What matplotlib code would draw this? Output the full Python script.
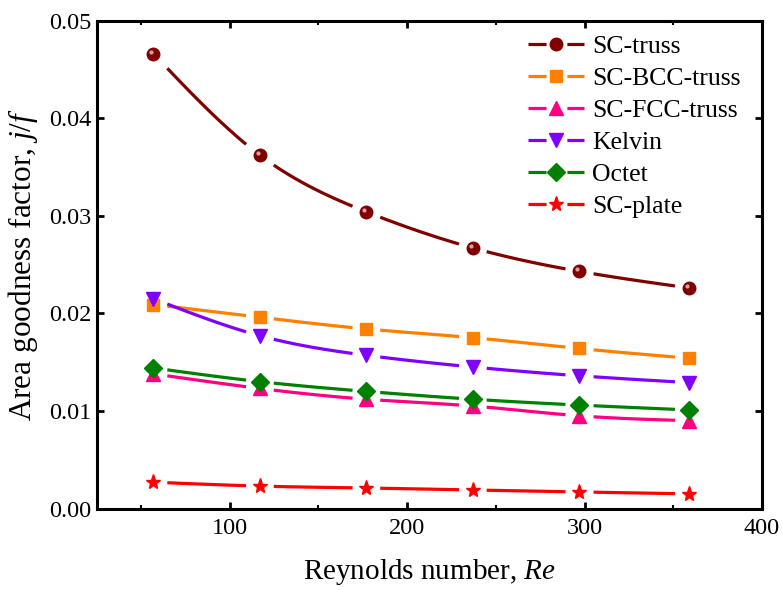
import numpy as np
import matplotlib
matplotlib.use("Agg")
import matplotlib.pyplot as plt
import matplotlib.transforms as mtransforms
from matplotlib.lines import Line2D
from matplotlib.ticker import MultipleLocator, FormatStrFormatter

plt.rcParams['font.family'] = ['Liberation Serif', 'DejaVu Serif']
plt.rcParams['mathtext.fontset'] = 'custom'
plt.rcParams['mathtext.rm'] = 'Liberation Serif'
plt.rcParams['mathtext.it'] = 'Liberation Serif:italic'
plt.rcParams['lines.scale_dashes'] = False

# ---- data ----
re = [57, 117, 177, 237, 297, 359]
sc_truss = [0.0466, 0.0362, 0.0304, 0.0267, 0.0243, 0.0226]
sc_bcc = [0.0209, 0.0196, 0.0184, 0.0175, 0.0164, 0.0154]
sc_fcc = [0.0138, 0.0123, 0.0112, 0.0105, 0.0095, 0.0090]
kelvin = [0.0215, 0.0177, 0.0157, 0.0145, 0.0136, 0.0129]
octet = [0.0144, 0.0130, 0.0120, 0.0112, 0.0106, 0.0101]
sc_plate = [0.0027, 0.0023, 0.0021, 0.0019, 0.0017, 0.0015]

labels = ['SC-truss', 'SC-BCC-truss', 'SC-FCC-truss', 'Kelvin', 'Octet', 'SC-plate']
series = [sc_truss, sc_bcc, sc_fcc, kelvin, octet, sc_plate]
colors = ['#800000', '#FF8000', '#FF0080', '#8000FF', '#008000', '#FF0000']
markers = ['o', 's', '^', 'v', 'D', '*']
msizes = [9, 9, 10, 10, 9, 11]


def smooth_segments(x, y, gap=0.13, n=40):
    """Natural cubic spline through the points, drawn per interval with gaps near markers."""
    x = np.asarray(x, float)
    y = np.asarray(y, float)
    N = len(x)
    h = np.diff(x)
    A = np.zeros((N, N))
    b = np.zeros(N)
    A[0, 0] = 1
    A[-1, -1] = 1
    for i in range(1, N - 1):
        A[i, i - 1] = h[i - 1]
        A[i, i] = 2 * (h[i - 1] + h[i])
        A[i, i + 1] = h[i]
        b[i] = 6 * ((y[i + 1] - y[i]) / h[i] - (y[i] - y[i - 1]) / h[i - 1])
    M = np.linalg.solve(A, b)
    segs = []
    for i in range(N - 1):
        t = np.linspace(gap, 1 - gap, n)
        xx = x[i] + t * h[i]
        a = x[i + 1] - xx
        c = xx - x[i]
        yy = (M[i] * a**3 / (6 * h[i]) + M[i + 1] * c**3 / (6 * h[i])
              + (y[i] / h[i] - M[i] * h[i] / 6) * a
              + (y[i + 1] / h[i] - M[i + 1] * h[i] / 6) * c)
        segs.append((xx, yy))
    return segs


fig = plt.figure(figsize=(7.83, 5.90), dpi=100)
ax = fig.add_axes([0.1235, 0.1381, 0.8497, 0.8271])

handles = []
for ys, c, mk, ms, lab in zip(series, colors, markers, msizes, labels):
    for xx, yy in smooth_segments(re, ys):
        ax.plot(xx, yy, color=c, lw=2.3, solid_capstyle='butt', zorder=2)
    ax.plot(re, ys, linestyle='none', marker=mk, ms=ms, color=c, mec=c, zorder=3)
    handles.append(Line2D([], [], color=c, lw=2.3, marker=mk, ms=ms, mec=c,
                          dashes=(13, 15), dash_capstyle='butt'))

# glossy highlight on the ball markers
hl = mtransforms.offset_copy(ax.transData, fig=fig, x=-1.5, y=1.5, units='points')
ax.plot(re, sc_truss, linestyle='none', marker='o', ms=3, color='#d9a0a0',
        mec='none', transform=hl, zorder=4)

ax.set_xlim(25, 400)
ax.set_ylim(0, 0.05)
ax.xaxis.set_major_locator(MultipleLocator(100))
ax.xaxis.set_minor_locator(MultipleLocator(50))
ax.yaxis.set_major_locator(MultipleLocator(0.01))
ax.yaxis.set_major_formatter(FormatStrFormatter('%.2f'))
ax.tick_params(which='both', direction='in', top=True, right=True, labelsize=17.5)
ax.tick_params(which='major', length=5, width=2)
ax.tick_params(which='minor', length=3, width=1.5)
ax.tick_params(axis='x', pad=7)
ax.tick_params(axis='y', pad=4)
for sp in ax.spines.values():
    sp.set_linewidth(2.2)

ax.set_xlabel('Reynolds number, $Re$', fontsize=21, labelpad=13)
ax.set_ylabel('Area goodness factor, $j/f$', fontsize=22.5, labelpad=6)

leg = ax.legend(handles, labels, loc='upper left', frameon=False, fontsize=18.5,
                handlelength=2.2, handletextpad=0.3, labelspacing=0.35,
                borderpad=0, borderaxespad=0, bbox_to_anchor=(0.648, 0.97))

fig.savefig('out.png', dpi=100)
